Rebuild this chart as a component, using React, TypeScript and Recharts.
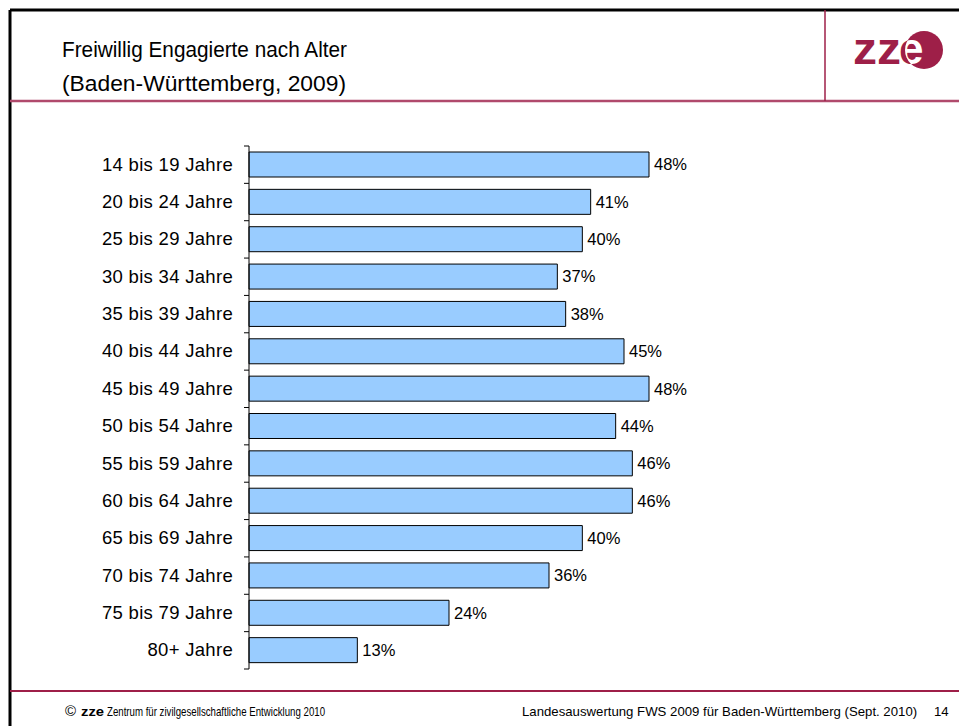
import React from 'react';
import { BarChart, Bar, XAxis, YAxis, LabelList } from 'recharts';

const ageGroups = [
  '14 bis 19 Jahre', '20 bis 24 Jahre', '25 bis 29 Jahre', '30 bis 34 Jahre',
  '35 bis 39 Jahre', '40 bis 44 Jahre', '45 bis 49 Jahre', '50 bis 54 Jahre',
  '55 bis 59 Jahre', '60 bis 64 Jahre', '65 bis 69 Jahre', '70 bis 74 Jahre',
  '75 bis 79 Jahre', '80+ Jahre',
];
const engagedShare = [48, 41, 40, 37, 38, 45, 48, 44, 46, 46, 40, 36, 24, 13];
const titleLines = ['Freiwillig Engagierte nach Alter', '(Baden-Württemberg, 2009)'];
const footerBrand = 'zze';
const footerLeft = 'Zentrum für zivilgesellschaftliche Entwicklung 2010';
const footerRight = 'Landesauswertung FWS 2009 für Baden-Württemberg (Sept. 2010)';
const pageNumber = '14';

const data = ageGroups.map((age, i) => ({ age, value: engagedShare[i] }));

const W = 959;
const H = 726;
const MARGIN = { top: 146, right: 210, bottom: 57, left: 0 };
const YAXIS_W = 249;
const BAND = (H - MARGIN.top - MARGIN.bottom) / ageGroups.length;
const TICK_MARGIN = 16;
const FONT = 'Arial, "Liberation Sans", sans-serif';
const MAROON = '#9E1F48';
const LINE = '#B04A6C';

const AgeTick = (props: any) => {
  const { x, y, payload, index } = props;
  const ax = x + TICK_MARGIN;
  return (
    <g>
      <text x={x} y={y} dy={6} textAnchor="end" fontSize={18.5} letterSpacing={0.3} fill="#000" fontFamily={FONT}>
        {payload.value}
      </text>
      <line x1={ax - 5} x2={ax} y1={y - BAND / 2} y2={y - BAND / 2} stroke="#000" strokeWidth={1} />
      {index === ageGroups.length - 1 && (
        <line x1={ax - 5} x2={ax} y1={y + BAND / 2} y2={y + BAND / 2} stroke="#000" strokeWidth={1} />
      )}
    </g>
  );
};

export default function App() {
  return (
    <div style={{ position: 'absolute', left: 0, top: 0, width: W, height: H, background: '#fff', fontFamily: FONT }}>
      <div style={{ position: 'absolute', left: 0, top: 0 }}>
        <BarChart width={W} height={H} data={data} layout="vertical" margin={MARGIN}>
          <XAxis type="number" domain={[0, 60]} hide />
          <YAxis
            type="category"
            dataKey="age"
            width={YAXIS_W}
            axisLine={{ stroke: '#000', strokeWidth: 1 }}
            tickLine={false}
            tickSize={0}
            tickMargin={TICK_MARGIN}
            tick={<AgeTick />}
            interval={0}
          />
          <Bar dataKey="value" fill="#99CCFF" stroke="#000" strokeWidth={1} barSize={25} isAnimationActive={false}>
            <LabelList
              dataKey="value"
              position="right"
              offset={5}
              fill="#000"
              fontSize={16.5}
              fontFamily={FONT}
              formatter={(v: any) => `${v}%`}
            />
          </Bar>
        </BarChart>
      </div>
      <svg width={W} height={H} style={{ position: 'absolute', left: 0, top: 0, pointerEvents: 'none' }}>
        <defs>
          <clipPath id="logoCircle">
            <circle cx={924} cy={50} r={19} />
          </clipPath>
        </defs>
        {/* frame */}
        <line x1={10} x2={W} y1={10} y2={10} stroke="#000" strokeWidth={3} />
        <line x1={10} x2={10} y1={10} y2={H} stroke="#000" strokeWidth={3} />
        {/* header separators */}
        <line x1={10} x2={W} y1={101} y2={101} stroke={LINE} strokeWidth={2.5} />
        <line x1={825} x2={825} y1={10} y2={101} stroke={MAROON} strokeWidth={1.5} />
        {/* title */}
        <text x={62} y={57} fontSize={22.5} textLength={285} lengthAdjust="spacingAndGlyphs" fill="#000" fontFamily={FONT}>{titleLines[0]}</text>
        <text x={62} y={91} fontSize={22.5} textLength={284} lengthAdjust="spacingAndGlyphs" fill="#000" fontFamily={FONT}>{titleLines[1]}</text>
        {/* logo */}
        <text x={853} y={64} fontSize={44} fontWeight="bold" fill={MAROON} fontFamily={FONT} textLength={48} lengthAdjust="spacingAndGlyphs">zz</text>
        <circle cx={924} cy={50} r={19} fill={MAROON} />
        <text x={899} y={64} fontSize={44} fontWeight="bold" fill={MAROON} fontFamily={FONT}>e</text>
        <g clipPath="url(#logoCircle)">
          <text x={899} y={64} fontSize={44} fontWeight="bold" fill="#fff" fontFamily={FONT}>e</text>
        </g>
        {/* footer */}
        <line x1={10} x2={W} y1={691} y2={691} stroke={MAROON} strokeWidth={2} />
        <text x={65} y={716} fontSize={15} fill="#000" fontFamily={FONT}>©</text>
        <text x={81} y={716} fontSize={13} fontWeight="bold" fill="#000" fontFamily={FONT} textLength={23} lengthAdjust="spacingAndGlyphs">{footerBrand}</text>
        <text x={107} y={716} fontSize={13} fill="#000" fontFamily={FONT} textLength={218} lengthAdjust="spacingAndGlyphs">{footerLeft}</text>
        <text x={522} y={716} fontSize={13.2} fill="#000" fontFamily={FONT}>{footerRight}</text>
        <text x={934} y={716} fontSize={13.2} fill="#000" fontFamily={FONT}>{pageNumber}</text>
      </svg>
    </div>
  );
}
